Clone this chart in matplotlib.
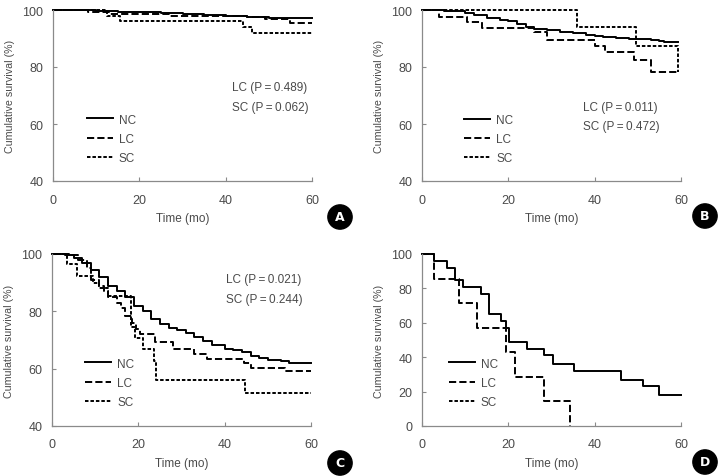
import matplotlib
matplotlib.use("Agg")
import matplotlib.pyplot as plt
from matplotlib import font_manager

names = set(f.name for f in font_manager.fontManager.ttflist)
if 'Liberation Sans Narrow' in names:
    plt.rcParams['font.family'] = ['Liberation Sans Narrow', 'DejaVu Sans']
    FS_TICK, FS, FS_Y = 10, 9.5, 9.5
else:
    plt.rcParams['font.family'] = ['Liberation Sans', 'DejaVu Sans']
    FS_TICK, FS, FS_Y = 9, 8.5, 7.7

# ---- data ----
# panel A
a_nc_t = [0, 10, 15, 20, 25, 30, 35, 40, 45, 48, 50, 55, 60]
a_nc_s = [100, 99.7, 99.4, 99.2, 98.9, 98.5, 98.2, 98.0, 97.7, 97.5, 97.3, 97.2, 97.2]
a_lc_t = [0, 8, 13, 27, 35, 45, 49, 55, 60]
a_lc_s = [100, 99.3, 98.5, 98.0, 97.8, 97.4, 96.8, 95.5, 95.5]
a_sc_t = [0, 12.5, 15.5, 44, 46, 60]
a_sc_s = [100, 98, 96, 94, 92, 92]

# panel B
b_nc_t = [0, 5, 10, 12, 15, 18, 20, 22, 24, 26, 29, 32, 35, 38, 40, 42, 45, 48, 53, 55, 56, 59.2]
b_nc_s = [100, 99.7, 99, 98.3, 97.2, 96.5, 96, 95, 94, 93.5, 93, 92.3, 92, 91.3, 91, 90.4, 90.2,
          89.7, 89.6, 89, 88.6, 88.6]
b_lc_t = [0, 4, 10.5, 14, 26, 29, 40, 42.5, 49, 53, 59.2]
b_lc_s = [100, 97.4, 95.9, 93.6, 92.4, 89.3, 87.3, 85.2, 82.6, 78.4, 78.4]
b_sc_t = [0, 35.8, 49.6, 59.2]
b_sc_s = [100, 94, 87.5, 78.4]

# panel C
c_nc_t = [0, 3, 5, 7, 9, 11, 13, 15, 17, 19, 21, 23, 25, 27, 29, 31, 33, 35, 37, 40, 42, 44,
          46, 48, 50, 53, 55, 60]
c_nc_s = [100, 99.5, 98.5, 97, 94.5, 92, 89, 87, 85, 82, 80, 77.5, 75.5, 74.3, 73.5, 72.3, 71,
          69.5, 68.3, 67, 66.6, 65.7, 64.3, 63.8, 63, 62.6, 62, 62]
c_lc_t = [0, 4, 6, 8, 9, 11, 12, 13, 15, 16, 17, 18.5, 19.5, 20.4, 23.8, 28, 33, 36, 44.5, 46,
          54, 60]
c_lc_s = [100, 99.5, 98, 95, 91, 89, 87, 85, 83, 81, 78.5, 76, 74, 72, 69.3, 66.9, 65.1, 63.2,
          62, 60.3, 59.2, 59.2]
c_sc_t = [0, 3.5, 5.8, 9.5, 11, 13, 18.4, 19.3, 21, 23.6, 24.2, 44.7, 60]
c_sc_s = [100, 96.5, 92.5, 90, 88, 85.5, 74.5, 70.7, 66.9, 62.8, 56, 51.4, 51.4]

# panel D
d_nc_t = [0, 2.7, 5.8, 7.7, 9.4, 13.7, 15.6, 18.3, 19.5, 20.2, 24.3, 28.3, 30.3, 35.3, 46.1,
          51.1, 54.8, 60]
d_nc_s = [100, 96, 92, 85, 81, 77, 65, 61, 57, 49, 45, 41, 36, 32, 27, 23, 18, 18]
d_lc_t = [0, 2.7, 8.6, 12.7, 19.5, 21.6, 28.3, 34.3]
d_lc_s = [100, 85.7, 71.4, 57.1, 42.9, 28.6, 14.3, 0]
d_sc_t = []
d_sc_s = []

groups = ['NC', 'LC', 'SC']
pvals = {'A': ['0.489', '0.062'], 'B': ['0.011', '0.472'], 'C': ['0.021', '0.244'], 'D': None}

GRAY = '#4a4a4a'
SPINE = '#8a8a8a'
styles = {
    'NC': dict(ls='-'),
    'LC': dict(ls=(0, (3.7, 1.6))),
    'SC': dict(ls=(0, (1.8, 1.0))),
}

fig = plt.figure(figsize=(7.26, 4.77), dpi=100)
W, H = 726, 477


def add_axes(l, t, r, b):
    return fig.add_axes([l / W, 1 - b / H, (r - l) / W, (b - t) / H])


panels = [
    ('A', add_axes(53, 11, 312, 182), [(a_nc_t, a_nc_s), (a_lc_t, a_lc_s), (a_sc_t, a_sc_s)],
     (40, 100), (0.113, 0.422), (0.69, 0.585), (340, 218)),
    ('B', add_axes(422, 11, 681, 182), [(b_nc_t, b_nc_s), (b_lc_t, b_lc_s), (b_sc_t, b_sc_s)],
     (40, 100), (0.145, 0.42), (0.62, 0.47), (705, 217)),
    ('C', add_axes(52, 255, 311, 427), [(c_nc_t, c_nc_s), (c_lc_t, c_lc_s), (c_sc_t, c_sc_s)],
     (40, 100), (0.11, 0.425), (0.67, 0.89), (340, 464)),
    ('D', add_axes(422, 255, 681, 427), [(d_nc_t, d_nc_s), (d_lc_t, d_lc_s), (d_sc_t, d_sc_s)],
     (0, 100), (0.085, 0.425), None, (705, 463)),
]

for letter, ax, curves, ylim, leg_pos, p_pos, circ in panels:
    for g, (t, s) in zip(groups, curves):
        ax.step(t, s, where='post', color='black', lw=1.4, label=g, clip_on=False,
                **styles[g])
    ax.set_xlim(0, 60)
    ax.set_ylim(*ylim)
    ax.set_xticks([0, 20, 40, 60])
    if ylim[0] == 0:
        ax.set_yticks([0, 20, 40, 60, 80, 100])
    else:
        ax.set_yticks([40, 60, 80, 100])
    for sp in ['top', 'right']:
        ax.spines[sp].set_visible(False)
    for sp in ['left', 'bottom']:
        ax.spines[sp].set_color(SPINE)
        ax.spines[sp].set_linewidth(0.9)
    ax.tick_params(axis='x', direction='in', length=3, color=SPINE, labelcolor=GRAY,
                   labelsize=FS_TICK, pad=9)
    ax.tick_params(axis='y', direction='in', length=3, color=SPINE, labelcolor=GRAY,
                   labelsize=FS_TICK, pad=7)
    ax.set_xlabel('Time (mo)', color=GRAY, fontsize=FS, labelpad=5)
    ax.set_ylabel('Cumulative survival (%)', color=GRAY, fontsize=FS_Y, labelpad=5)
    leg = ax.legend(loc='upper left', bbox_to_anchor=leg_pos, frameon=False, fontsize=FS,
                    handlelength=2.2, handletextpad=0.5, labelspacing=0.6, borderaxespad=0)
    for txt in leg.get_texts():
        txt.set_color(GRAY)
    if pvals[letter] is not None:
        ax.text(p_pos[0], p_pos[1],
                'LC (P\u2009=\u2009%s)\nSC (P\u2009=\u2009%s)' % tuple(pvals[letter]),
                transform=ax.transAxes, ha='left', va='top', fontsize=FS, color=GRAY,
                linespacing=1.85)
    fig.text(circ[0] / W, 1 - circ[1] / H, letter, ha='center', va='center', color='white',
             fontsize=9, fontweight='bold', family='DejaVu Sans',
             bbox=dict(boxstyle='circle,pad=0.45', fc='black', ec='black'))

fig.savefig('out.png', dpi=100)
